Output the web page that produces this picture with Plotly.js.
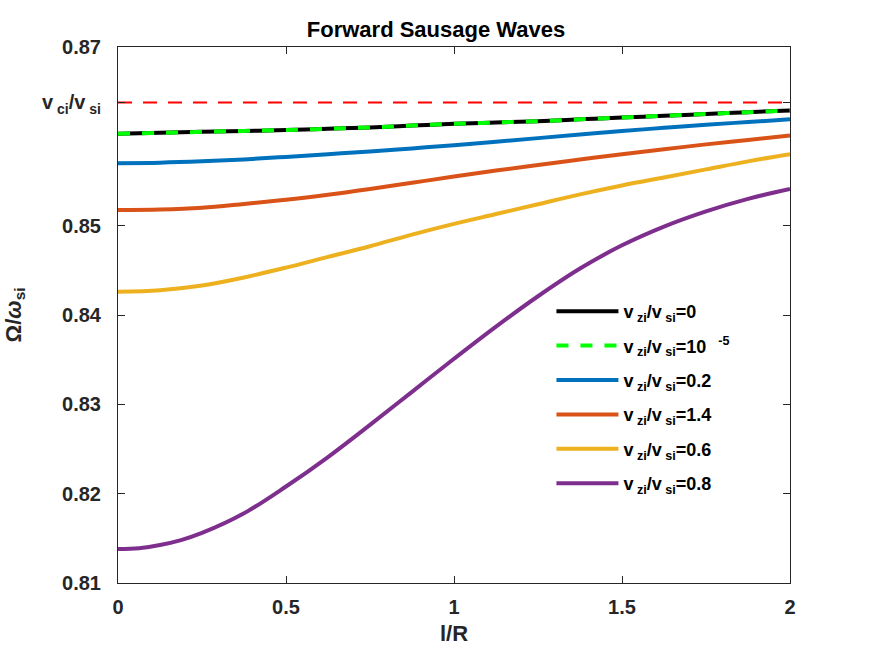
<!DOCTYPE html>
<html>
<head>
<meta charset="utf-8">
<script src="https://cdn.plot.ly/plotly-3.0.1.min.js"></script>
<style>
  html, body { margin: 0; padding: 0; background: #fff; }
  #chart { width: 872px; height: 654px; }
</style>
</head>
<body>
<div id="chart"></div>
<script>
  // l/R sample points
  const lGrid = [0, 0.125, 0.25, 0.375, 0.5, 0.625, 0.75, 0.875, 1,
    1.125, 1.25, 1.375, 1.5, 1.625, 1.75, 1.875, 2];
  const lPurple = [0, 0.0625, 0.125, 0.1875, 0.25, 0.375, 0.5, 0.625, 0.75, 0.875, 1,
    1.125, 1.25, 1.375, 1.5, 1.625, 1.75, 1.875, 2];

  // Omega / omega_si for each v_zi/v_si
  const w0 = [0.8603, 0.8604, 0.8605, 0.8606, 0.8607, 0.86085, 0.8610, 0.8612, 0.8614,
    0.86155, 0.8617, 0.8619, 0.8621, 0.8623, 0.8625, 0.8627, 0.8629];
  const w1e5 = [0.8603, 0.8604, 0.8605, 0.8606, 0.8607, 0.86085, 0.8610, 0.8612, 0.8614,
    0.86155, 0.8617, 0.8619, 0.8621, 0.8623, 0.8625, 0.8627, 0.8629];
  const w02 = [0.8570, 0.85705, 0.8572, 0.85742, 0.8577, 0.8580, 0.8583, 0.85865, 0.8590,
    0.8594, 0.8598, 0.8602, 0.8606, 0.86095, 0.8613, 0.8616, 0.8619];
  const w14 = [0.85175, 0.8518, 0.8520, 0.85243, 0.8529, 0.85345, 0.8541, 0.8548, 0.8555,
    0.85617, 0.8568, 0.8574, 0.8580, 0.85855, 0.8591, 0.8596, 0.8601];
  const w06 = [0.8426, 0.84278, 0.8433, 0.8442, 0.8453, 0.8465, 0.8477, 0.8490, 0.8502,
    0.8513, 0.8524, 0.8535, 0.8545, 0.8554, 0.8563, 0.8572, 0.8580];
  const w08 = [0.8138, 0.8139, 0.81425, 0.8148, 0.8156, 0.8178, 0.8208, 0.8241, 0.8277,
    0.8314, 0.8351, 0.8387, 0.8421, 0.8452, 0.8478, 0.8499, 0.8516, 0.8530, 0.8541];

  // v_ci / v_si cutoff line
  const cutX = [0, 2];
  const cutY = [0.8638, 0.8638];

  const yTickVals = [0.81, 0.82, 0.83, 0.84, 0.85, 0.8638, 0.87];
  const yTickText = ["0.81", "0.82", "0.83", "0.84", "0.85", "v<sub> ci</sub>/v<sub> si</sub>", "0.87"];
  const xTickVals = [0, 0.5, 1, 1.5, 2];
  const xTickText = ["0", "0.5", "1", "1.5", "2"];

  const lbl = (v) => `v<sub> zi</sub>/v<sub> si</sub>=${v}`;
  const font = { family: "Liberation Sans, Arial, sans-serif", weight: "bold", color: "#262626" };

  function curve(x, y, name, color, dash) {
    return {
      x, y, name, legendgroup: name, type: "scatter", mode: "lines",
      line: { color, width: 4, dash: dash || "solid", shape: "spline", smoothing: 1 },
    };
  }

  const traces = [
    curve(lGrid, w0, lbl("0"), "#000000"),
    curve(lGrid, w1e5, lbl("10 <sup>  -5</sup>"), "#00ff00", "12px,12px"),
    curve(lGrid, w02, lbl("0.2"), "#0072bd"),
    curve(lGrid, w14, lbl("1.4"), "#d95319"),
    curve(lGrid, w06, lbl("0.6"), "#edb120"),
    curve(lPurple, w08, lbl("0.8"), "#7e2f8e"),
    {
      x: cutX, y: cutY, type: "scatter", mode: "lines", showlegend: false,
      line: { color: "#ff0000", width: 2, dash: "14px,11px" },
    },
  ];

  const axisCommon = {
    showline: true, linecolor: "#262626", linewidth: 1, mirror: "ticks",
    ticks: "inside", ticklen: 7, tickcolor: "#262626", tickwidth: 1,
    showgrid: false, zeroline: false, tickmode: "array",
    tickfont: { ...font, size: 20 },
  };

  const layout = {
    width: 872, height: 654,
    paper_bgcolor: "#fff", plot_bgcolor: "#fff",
    margin: { l: 118, r: 82, t: 47, b: 71 },
    font,
    title: {
      text: "Forward Sausage Waves",
      font: { ...font, size: 22, color: "#000" },
      x: 0.5, xanchor: "center", y: 0.955, yanchor: "middle",
    },
    xaxis: {
      ...axisCommon, range: [0, 2], tickvals: xTickVals, ticktext: xTickText,
      ticklabelstandoff: 6,
      title: { text: "l/R", font: { ...font, size: 22 }, standoff: 8 },
    },
    yaxis: {
      ...axisCommon, range: [0.81, 0.87], tickvals: yTickVals, ticktext: yTickText,
      ticklabelstandoff: 12,
      title: { text: "Ω/<i>ω</i><sub>si</sub>", font: { ...font, size: 22 }, standoff: 14 },
    },
    legend: {
      x: 0.645, xanchor: "left", y: 0.541, yanchor: "top",
      bgcolor: "rgba(0,0,0,0)", borderwidth: 0,
      itemwidth: 62, tracegroupgap: 8,
      font: { ...font, size: 18, color: "#000" },
    },
    showlegend: true,
  };

  Plotly.newPlot("chart", traces, layout, { displayModeBar: false, staticPlot: true });
</script>
</body>
</html>
